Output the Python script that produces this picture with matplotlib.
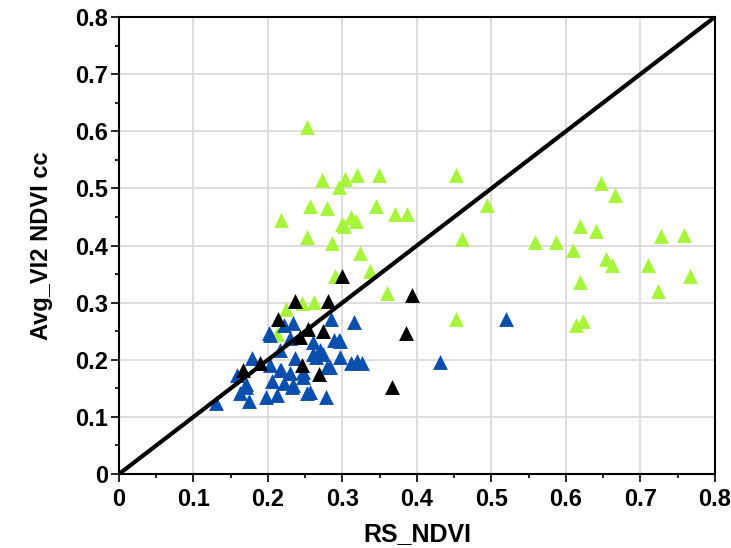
import matplotlib
matplotlib.use("Agg")
import matplotlib.pyplot as plt
from matplotlib.ticker import MultipleLocator

# green series
green_x = [0.253, 0.272, 0.304, 0.295, 0.320, 0.349, 0.256, 0.279, 0.345, 0.370,
           0.386, 0.218, 0.311, 0.318, 0.299, 0.302, 0.253, 0.286, 0.323, 0.337,
           0.290, 0.360, 0.224, 0.246, 0.262, 0.212, 0.452, 0.494, 0.460, 0.647,
           0.666, 0.619, 0.640, 0.559, 0.587, 0.610, 0.654, 0.662, 0.728, 0.759,
           0.710, 0.766, 0.619, 0.724, 0.453, 0.623, 0.613]
green_y = [0.608, 0.514, 0.516, 0.502, 0.523, 0.523, 0.470, 0.466, 0.470, 0.456,
           0.455, 0.445, 0.450, 0.443, 0.438, 0.434, 0.415, 0.404, 0.387, 0.356,
           0.347, 0.316, 0.288, 0.299, 0.301, 0.245, 0.523, 0.471, 0.411, 0.509,
           0.488, 0.434, 0.425, 0.407, 0.407, 0.392, 0.376, 0.366, 0.416, 0.418,
           0.366, 0.347, 0.336, 0.320, 0.271, 0.267, 0.260]

# blue series
blue_x = [0.130, 0.159, 0.162, 0.174, 0.171, 0.179, 0.205, 0.198, 0.212, 0.221,
          0.232, 0.203, 0.221, 0.233, 0.230, 0.216, 0.203, 0.216, 0.230, 0.236,
          0.247, 0.252, 0.285, 0.315, 0.297, 0.297, 0.312, 0.319, 0.326, 0.261,
          0.274, 0.283, 0.256, 0.278, 0.261, 0.270, 0.265, 0.279, 0.288, 0.296,
          0.234, 0.218, 0.202, 0.171, 0.247, 0.431, 0.519]
blue_y = [0.124, 0.173, 0.141, 0.127, 0.153, 0.203, 0.162, 0.135, 0.138, 0.159,
          0.153, 0.243, 0.261, 0.264, 0.238, 0.217, 0.191, 0.182, 0.176, 0.203,
          0.170, 0.141, 0.271, 0.266, 0.233, 0.204, 0.194, 0.197, 0.194, 0.210,
          0.210, 0.187, 0.143, 0.134, 0.231, 0.217, 0.205, 0.188, 0.235, 0.235,
          0.155, 0.182, 0.246, 0.158, 0.179, 0.196, 0.271]

# black series
black_x = [0.167, 0.189, 0.214, 0.236, 0.243, 0.245, 0.254, 0.274, 0.268, 0.281,
           0.299, 0.385, 0.394, 0.367]
black_y = [0.182, 0.194, 0.271, 0.302, 0.239, 0.191, 0.253, 0.250, 0.175, 0.302,
           0.347, 0.246, 0.313, 0.152]

plt.rcParams['font.family'] = ['Liberation Sans', 'DejaVu Sans']
plt.rcParams['font.weight'] = 'bold'

fig = plt.figure(figsize=(7.31, 5.48), dpi=100)
ax = fig.add_axes([0.1628, 0.135, 0.8152, 0.834])

ax.scatter(green_x, green_y, marker='^', s=115, color='#a6f53a', linewidths=0, zorder=3)
ax.scatter(blue_x, blue_y, marker='^', s=115, color='#0a4fae', linewidths=0, zorder=4)
ax.scatter(black_x, black_y, marker='^', s=115, color='black', linewidths=0, zorder=5)
ax.plot([0, 0.8], [0, 0.8], color='black', lw=3, zorder=6)

ax.set_xlim(0, 0.8)
ax.set_ylim(0, 0.8)
ax.xaxis.set_major_locator(MultipleLocator(0.1))
ax.yaxis.set_major_locator(MultipleLocator(0.1))
ax.xaxis.set_minor_locator(MultipleLocator(0.05))
ax.yaxis.set_minor_locator(MultipleLocator(0.05))
ax.xaxis.set_major_formatter(lambda v, p: '0' if abs(v) < 1e-9 else f'{v:.1f}')
ax.yaxis.set_major_formatter(lambda v, p: '0' if abs(v) < 1e-9 else f'{v:.1f}')
ax.grid(True, which='major', color='#dadada', lw=1.3, zorder=0)
ax.set_axisbelow(True)

for sp in ax.spines.values():
    sp.set_linewidth(1.5)
    sp.set_color('black')

ax.tick_params(which='major', direction='out', length=6, width=1.2, labelsize=17, pad=2)
ax.tick_params(which='minor', direction='out', length=3, width=1.2)
ax.tick_params(axis='x', pad=4)

ax.set_xlabel('RS_NDVI', fontsize=18, fontweight='bold', labelpad=8)
ax.set_ylabel('Avg_VI2 NDVI cc', fontsize=17, fontweight='bold', labelpad=16)

fig.savefig('out.png', dpi=100)
